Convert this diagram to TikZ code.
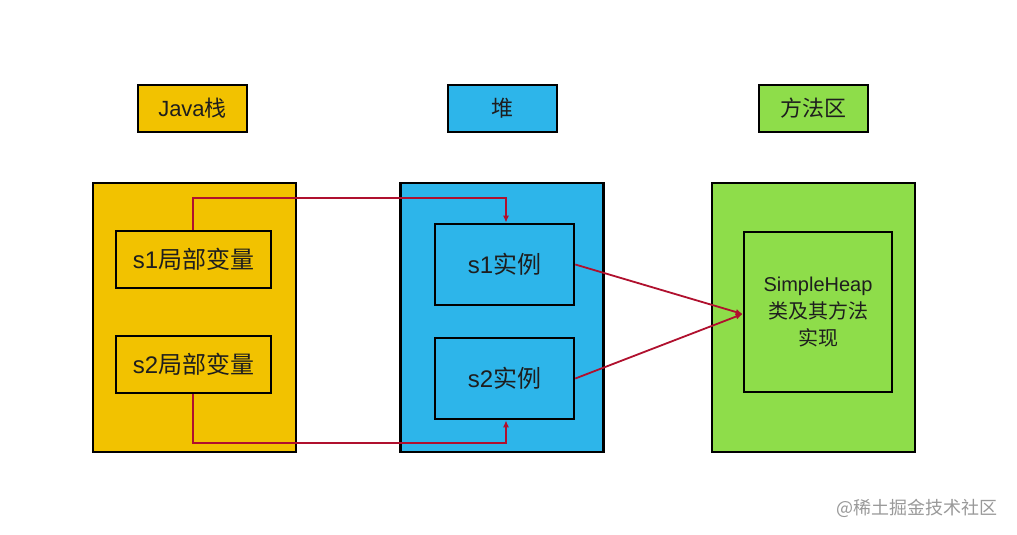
\documentclass[tikz,border=0pt]{standalone}
\usepackage{fontspec}
\setmainfont{Noto Sans CJK SC}
\newfontfamily\lat{Liberation Sans}
\usetikzlibrary{arrows.meta}
\definecolor{cyel}{HTML}{F2C200}
\definecolor{cblu}{HTML}{2DB5EA}
\definecolor{cgrn}{HTML}{8EDD4A}
\definecolor{cred}{HTML}{B0102E}
\definecolor{ctxt}{HTML}{1E1E1E}
\tikzset{
  title/.style={draw=black, line width=2.6pt, minimum width=109pt, minimum height=47pt, font=\fontsize{22}{26}\selectfont, text=ctxt, inner sep=0pt},
  region/.style={draw=black, line width=2.6pt, minimum width=203pt, minimum height=269pt, inner sep=0pt},
  inbox/.style={draw=black, line width=2.6pt, inner sep=0pt, text=ctxt, font=\fontsize{24}{28}\selectfont},
  link/.style={draw=cred, line width=1.8pt},
  tip/.style={-{Latex[length=7pt,width=6pt]}}
}
\begin{document}
\begin{tikzpicture}[x=1pt,y=-1pt]
\useasboundingbox (0,0) rectangle (1017,535);
\fill[white] (0,0) rectangle (1017,535);
% titles
\node[title, fill=cyel] (t1) at (192.5,108.5) {{\lat Java}栈};
\node[title, fill=cblu] (t2) at (502.5,108.5) {堆};
\node[title, fill=cgrn] (t3) at (813.5,108.5) {方法区};
% regions
\node[region, fill=cyel] (r1) at (194.5,317.5) {};
\node[region, fill=cblu] (r2) at (502,317.5) {};
\node[region, fill=cgrn] (r3) at (813.5,317.5) {};
% inner boxes
\node[inbox, minimum width=155pt, minimum height=57pt] (a1) at (193.5,259.5) {{\lat s1}局部变量};
\node[inbox, minimum width=155pt, minimum height=57pt] (a2) at (193.5,364.5) {{\lat s2}局部变量};
\node[inbox, minimum width=139pt, minimum height=81pt] (b1) at (504.5,264.5) {{\lat s1}实例};
\node[inbox, minimum width=139pt, minimum height=81pt] (b2) at (504.5,378.5) {{\lat s2}实例};
\node[inbox, minimum width=148pt, minimum height=160pt, align=center, font=\fontsize{20}{27}\selectfont] (c) at (818,312) {{\lat SimpleHeap}\\类及其方法\\实现};
% connectors
\coordinate (p1) at (193,198);
\coordinate (p2) at (506,198);
\coordinate (q1) at (193,443);
\coordinate (q2) at (506,443);
\coordinate (ct) at ([yshift=-2pt]c.west);
\draw[link, tip] (p1 |- a1.north) -- (p1) -- (p2) -- (p2 |- b1.north);
\draw[link, tip] (q1 |- a2.south) -- (q1) -- (q2) -- (q2 |- b2.south);
\draw[link, tip] (b1.east) -- (ct);
\draw[link, tip] (b2.east) -- (ct);
% watermark
\node[text=black!40, font=\fontsize{18}{22}\selectfont, anchor=east] (wm) at (1001,508) {@稀土掘金技术社区};
\end{tikzpicture}
\end{document}
